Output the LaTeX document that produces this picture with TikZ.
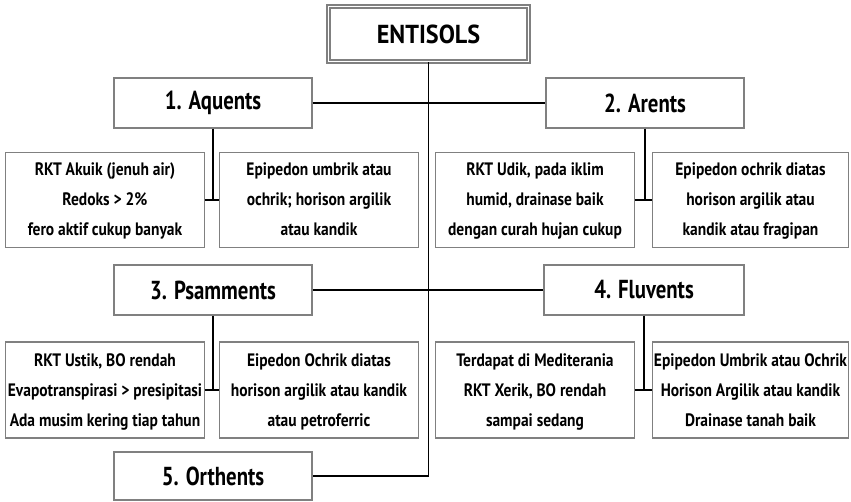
\documentclass[tikz,border=0pt]{standalone}
\usepackage{fontspec}
\setmainfont{PT Sans}
\usepackage{graphicx}
\definecolor{bordergray}{RGB}{128,128,128}
\newcommand{\btext}[1]{\scalebox{0.86}[1]{\fontsize{18}{30}\selectfont\begin{tabular}{@{}c@{}}#1\end{tabular}}}
\newcommand{\ttext}[1]{\scalebox{0.8}[1]{\fontsize{26}{30}\selectfont #1}}
\newcommand{\rtext}[1]{\scalebox{0.93}[1]{\fontsize{26}{30}\selectfont #1}}
\tikzset{
  box/.style={rectangle, draw=bordergray, line width=1.5pt, fill=white, inner sep=0pt, font=\bfseries},
  titlebox/.style={box, minimum width=198pt, minimum height=50pt},
  infobox/.style={box, minimum width=199pt, minimum height=95pt},
  link/.style={draw=black, line width=1.6pt},
}
\begin{document}
\begin{tikzpicture}[x=1pt,y=-1pt]
\useasboundingbox (0,0) rectangle (851,502);
% root
\node[box, double=white, double distance=1.5pt, minimum width=200pt, minimum height=55pt] (ent) at (428.5,34) {\rtext{ENTISOLS}};
% level nodes
\node[titlebox] (aq) at (213,103) {\ttext{1. Aquents}};
\node[titlebox] (ar) at (645,103) {\ttext{2. Arents}};
\node[titlebox] (ps) at (213,290) {\ttext{3. Psamments}};
\node[titlebox, minimum width=200pt] (fl) at (644,290) {\ttext{4. Fluvents}};
\node[titlebox, minimum height=48pt] (or) at (213,476) {\ttext{5. Orthents}};
% info boxes
\node[infobox] (a1) at (105,200) {\btext{RKT Akuik (jenuh air)\\Redoks > 2\%\\fero aktif cukup banyak}};
\node[infobox] (a2) at (319,200) {\btext{Epipedon umbrik atau\\ochrik; horison argilik\\atau kandik}};
\node[infobox] (r1) at (535,200) {\btext{RKT Udik, pada iklim\\humid, drainase baik\\dengan curah hujan cukup}};
\node[infobox, minimum width=196pt] (r2) at (750.5,200) {\btext{Epipedon ochrik diatas\\horison argilik atau\\kandik atau fragipan}};
\node[infobox, minimum height=96pt] (p1) at (105,390) {\btext{RKT Ustik, BO rendah\\Evapotranspirasi > presipitasi\\Ada musim kering tiap tahun}};
\node[infobox, minimum height=96pt] (p2) at (319,390) {\btext{Eipedon Ochrik diatas\\horison argilik atau kandik\\atau petroferric}};
\node[infobox, minimum height=96pt] (f1) at (535,390) {\btext{Terdapat di Mediterania\\RKT Xerik, BO rendah\\sampai sedang}};
\node[infobox, minimum height=96pt, minimum width=196pt] (f2) at (750.5,390) {\btext{Epipedon Umbrik atau Ochrik\\Horison Argilik atau kandik\\Drainase tanah baik}};
% connectors
\draw[link] (ent.south) -- (ent.south |- or.east) -- (or.east);
\draw[link] (aq.east) -- (ar.west);
\draw[link] (ps.east) -- (fl.west);
\draw[link] (aq.south) -- (aq.south |- a1.east);
\draw[link] (a1.east) -- (a2.west);
\draw[link] (ar.south) -- (ar.south |- r1.east);
\draw[link] (r1.east) -- (r2.west);
\draw[link] (ps.south) -- (ps.south |- p1.east);
\draw[link] (p1.east) -- (p2.west);
\draw[link] (fl.south) -- (fl.south |- f1.east);
\draw[link] (f1.east) -- (f2.west);
\end{tikzpicture}
\end{document}
